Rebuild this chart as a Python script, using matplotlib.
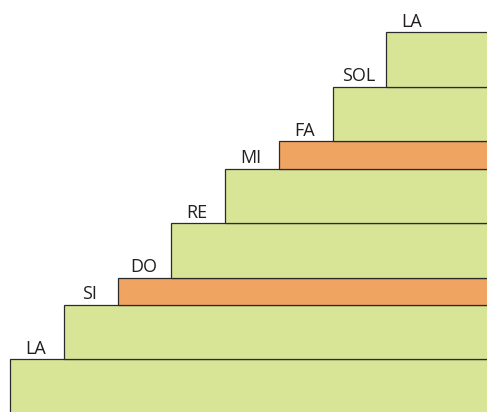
import matplotlib
matplotlib.use("Agg")
import matplotlib.pyplot as plt

notes = ["LA", "SI", "DO", "RE", "MI", "FA", "SOL", "LA"]
pitch_tops = [0, 2, 3, 5, 7, 8, 10, 12]   # semitones above the lowest LA
semitone_steps = [False, False, True, False, False, True, False, False]

green = "#D8E596"
orange = "#F0A461"

fig = plt.figure(figsize=(4.87, 4.12), dpi=100)
ax = fig.add_axes([0, 0, 1, 1])
ax.set_xlim(-0.192, 8.877)
ax.set_ylim(-1.934, 13.185)
ax.axis("off")

right_end = 10
bottoms = [-3] + pitch_tops[:-1]
lefts = list(range(len(notes)))
heights = [t - b for t, b in zip(pitch_tops, bottoms)]
widths = [right_end - l for l in lefts]
colors = [orange if s else green for s in semitone_steps]

ax.barh(bottoms, widths, height=heights, left=lefts, align="edge",
        color=colors, edgecolor="#2b2b2b", linewidth=0.9)

for i, (name, top) in enumerate(zip(notes, pitch_tops)):
    ax.text(lefts[i] + 0.48, top + 0.2, name, ha="center", va="baseline",
            fontsize=13, family=["Open Sans", "DejaVu Sans"], color="#231f20")

fig.savefig("out.png", dpi=100)
